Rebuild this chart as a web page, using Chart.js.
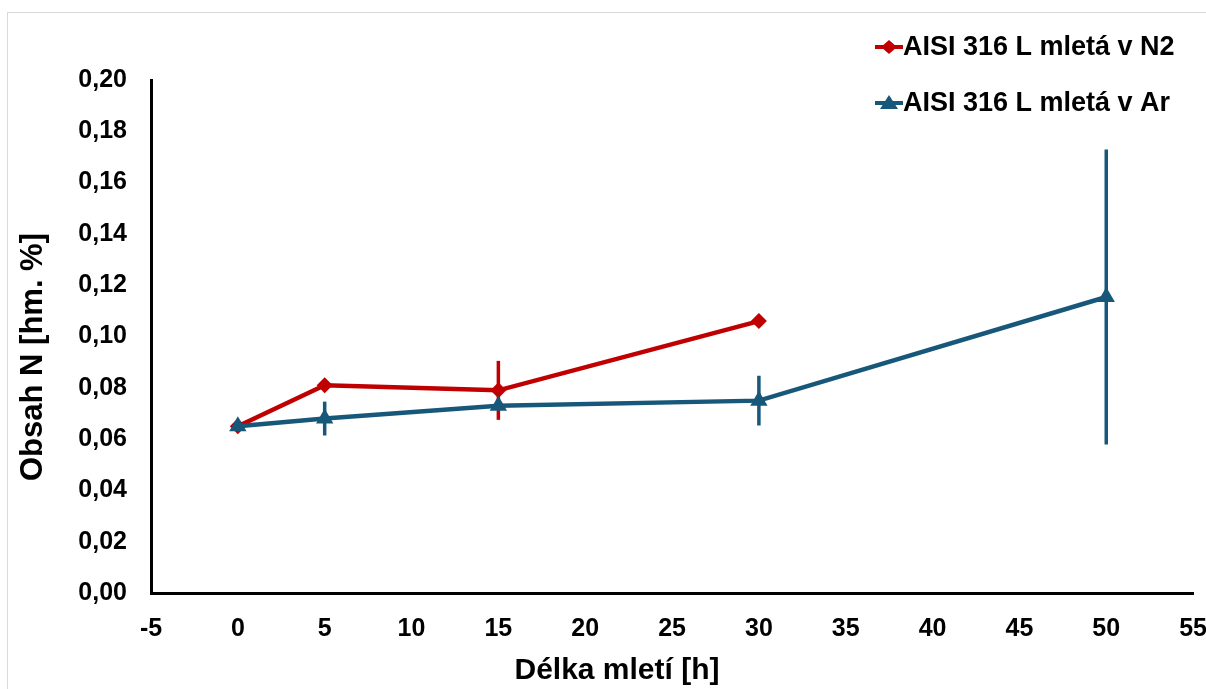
<!DOCTYPE html>
<html>
<head>
<meta charset="utf-8">
<script src="https://cdn.jsdelivr.net/npm/chart.js@4/dist/chart.umd.min.js"></script>
<style>
    html, body { margin: 0; padding: 0; background: #fff; overflow: hidden; }
    #frame { position: absolute; left: 7px; top: 12px; width: 1300px; height: 800px; border: 1px solid #d9d9d9; }
    #wrap { position: absolute; left: 0; top: 0; width: 1228px; height: 689px; }
</style>
</head>
<body>
<div id="frame"></div>
<div id="wrap"><canvas id="nChart"></canvas></div>
<script>
// Délka mletí [h] vs. obsah N [hm. %]
const hoursN2 = [0, 5, 15, 30];
const valuesN2 = [0.065, 0.081, 0.079, 0.106];
const errorsN2 = [0.002, 0.001, 0.0115, 0.0018];

const hoursAr = [0, 5, 15, 30, 50];
const valuesAr = [0.065, 0.068, 0.073, 0.075, 0.1154];
const errorsAr = [0.0022, 0.0066, 0.0015, 0.0097, 0.0575];

const labels = ["AISI 316 L mletá v N2", "AISI 316 L mletá v Ar"];
const xTitle = "Délka mletí [h]";
const yTitle = "Obsah N [hm. %]";
const xTicks = [-5, 0, 5, 10, 15, 20, 25, 30, 35, 40, 45, 50, 55];
const yTicks = [0, 0.02, 0.04, 0.06, 0.08, 0.10, 0.12, 0.14, 0.16, 0.18, 0.20];

const RED = "#c00000";
const BLUE = "#17587a";
const FONT = "'Liberation Sans', Arial, sans-serif";

Chart.defaults.font.family = FONT;
Chart.defaults.font.weight = "bold";
Chart.defaults.color = "#000";

const errorBars = {
    id: "errorBars",
    beforeDatasetsDraw(chart) {
        const ctx = chart.ctx;
        const xs = chart.scales.x, ys = chart.scales.y;
        chart.data.datasets.forEach(ds => {
            ctx.save();
            ctx.strokeStyle = ds.borderColor;
            ctx.lineWidth = 3.5;
            ds.data.forEach((p, j) => {
                const e = ds.errors[j];
                const px = xs.getPixelForValue(p.x);
                ctx.beginPath();
                ctx.moveTo(px, ys.getPixelForValue(p.y + e));
                ctx.lineTo(px, ys.getPixelForValue(p.y - e));
                ctx.stroke();
            });
            ctx.restore();
        });
    }
};

// axis titles sit a bit off-centre in the original, so they are drawn here
const axisTitles = {
    id: "axisTitles",
    afterDraw(chart) {
        const ctx = chart.ctx;
        ctx.save();
        ctx.fillStyle = "#000";
        ctx.font = "bold 30px " + FONT;
        ctx.textAlign = "center";
        ctx.textBaseline = "middle";
        ctx.fillText(xTitle, 617, 671);
        ctx.translate(33, 357);
        ctx.rotate(-Math.PI / 2);
        ctx.font = "bold 31px " + FONT;
        ctx.fillText(yTitle, 0, 0);
        ctx.restore();
    }
};

const sideLegend = {
    id: "sideLegend",
    afterDraw(chart) {
        const ctx = chart.ctx;
        const rows = [47, 103];
        chart.data.datasets.forEach((ds, i) => {
            const y = rows[i];
            ctx.save();
            ctx.strokeStyle = ds.borderColor;
            ctx.fillStyle = ds.borderColor;
            ctx.lineWidth = 4;
            ctx.beginPath();
            ctx.moveTo(875, y);
            ctx.lineTo(903, y);
            ctx.stroke();
            ctx.beginPath();
            if (ds.pointStyle === "rectRot") {
                ctx.moveTo(889, y - 7); ctx.lineTo(897, y); ctx.lineTo(889, y + 7); ctx.lineTo(881, y);
            } else {
                ctx.moveTo(889, y - 8); ctx.lineTo(898, y + 6); ctx.lineTo(880, y + 6);
            }
            ctx.closePath();
            ctx.fill();
            ctx.fillStyle = "#000";
            ctx.font = "bold 27px " + FONT;
            ctx.textBaseline = "middle";
            ctx.fillText(ds.label, 903, y + 1);
            ctx.restore();
        });
    }
};

const ctx = document.getElementById("nChart").getContext("2d");
new Chart(ctx, {
    type: "line",
    data: {
        datasets: [
            {
                label: labels[0],
                data: hoursN2.map((h, i) => ({ x: h, y: valuesN2[i] })),
                errors: errorsN2,
                borderColor: RED,
                backgroundColor: RED,
                borderWidth: 4.5,
                pointStyle: "rectRot",
                pointRadius: 8,
                pointBorderWidth: 0,
                order: 1,
                tension: 0
            },
            {
                label: labels[1],
                data: hoursAr.map((h, i) => ({ x: h, y: valuesAr[i] })),
                errors: errorsAr,
                borderColor: BLUE,
                backgroundColor: BLUE,
                borderWidth: 4.5,
                pointStyle: "triangle",
                pointRadius: 10,
                pointBorderWidth: 0,
                order: 0,
                tension: 0
            }
        ]
    },
    options: {
        responsive: true,
        maintainAspectRatio: false,
        animation: false,
        layout: { padding: { top: 80, right: 26, left: 0, bottom: 0 } },
        plugins: { legend: { display: false }, tooltip: { enabled: false } },
        scales: {
            x: {
                type: "linear",
                min: -5,
                max: 55,
                afterBuildTicks: s => { s.ticks = xTicks.map(v => ({ value: v })); },
                afterFit: s => { s.height = 96; },
                ticks: { font: { size: 25, weight: "bold" }, padding: 21, maxRotation: 0 },
                grid: { display: false, drawTicks: false },
                border: { display: true, color: "#000", width: 3 },
                title: { display: false }
            },
            y: {
                min: 0,
                max: 0.2,
                afterBuildTicks: s => { s.ticks = yTicks.map(v => ({ value: v })); },
                afterFit: s => { s.width = 151; },
                ticks: {
                    font: { size: 25, weight: "bold" },
                    padding: 24,
                    callback: v => v.toFixed(2).replace(".", ",")
                },
                grid: { display: false, drawTicks: false },
                border: { display: true, color: "#000", width: 3 },
                title: { display: false }
            }
        }
    },
    plugins: [errorBars, axisTitles, sideLegend]
});
</script>
</body>
</html>
